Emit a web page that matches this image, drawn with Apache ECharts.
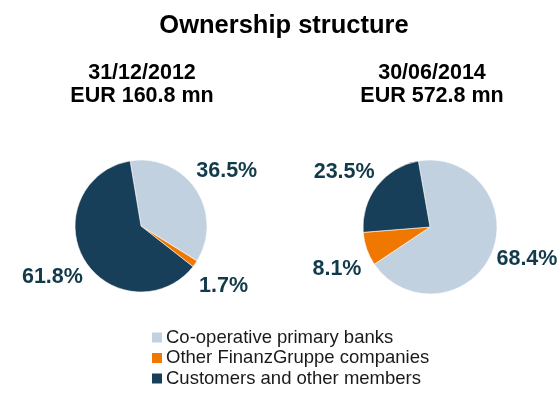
<!DOCTYPE html>
<html>
<head>
<meta charset="utf-8">
<script src="https://cdn.jsdelivr.net/npm/echarts@6/dist/echarts.min.js"></script>
<style>
  html, body { margin: 0; padding: 0; background: #ffffff; }
  #chart { width: 558px; height: 399px; }
</style>
</head>
<body>
<div id="chart"></div>
<script>
// Shareholder groups and their shares (%) at the two reporting dates
const categories = ['Co-operative primary banks', 'Other FinanzGruppe companies', 'Customers and other members'];
const shares2012 = [36.5, 1.7, 61.8];
const shares2014 = [68.4, 8.1, 23.5];
const periodDates = ['31/12/2012', '30/06/2014'];
const periodCapital = ['EUR 160.8 mn', 'EUR 572.8 mn'];

const FONT = '"Liberation Sans", Arial, sans-serif';
const colors = ['#C1D1E0', '#F07800', '#173F59'];
const labelColor = '#113A4B';

// Pie geometry; labelTurn rotates the label ring slightly (degrees, clockwise)
const pies = [
  { values: shares2012, center: [141, 226], radius: 66, startAngle: 99.5, labelTurn: 1 },
  { values: shares2014, center: [430, 227], radius: 67, startAngle: 100, labelTurn: -5 }
];
const labelDistance = 102;

// Place each percentage label on the bisector of its slice, beyond the rim
function labelPos(pie, idx) {
  const total = pie.values.reduce((a, b) => a + b, 0);
  let before = 0;
  for (let i = 0; i < idx; i++) before += pie.values[i];
  const midFrac = (before + pie.values[idx] / 2) / total;
  const a = (pie.startAngle - midFrac * 360 - pie.labelTurn) * Math.PI / 180;
  return [pie.center[0] + labelDistance * Math.cos(a), pie.center[1] - labelDistance * Math.sin(a)];
}

const chart = echarts.init(document.getElementById('chart'), null, { renderer: 'canvas' });

const series = pies.map((pie, s) => ({
  type: 'pie',
  center: pie.center,
  radius: pie.radius,
  startAngle: pie.startAngle,
  clockwise: true,
  silent: true,
  animation: false,
  itemStyle: { borderColor: '#ffffff', borderWidth: 0.6 },
  label: {
    show: true,
    position: 'inside',
    formatter: p => p.value.toFixed(1) + '%',
    fontFamily: FONT,
    fontWeight: 'bold',
    fontSize: 21.5,
    color: labelColor,
    overflow: 'none'
  },
  labelLine: { show: false },
  labelLayout: params => {
    const [x, y] = labelPos(pie, params.dataIndex);
    return { x: x, y: y, align: 'center', verticalAlign: 'middle', hideOverlap: false, moveOverlap: false };
  },
  data: categories.map((name, i) => ({ name: name, value: pie.values[i], itemStyle: { color: colors[i] } }))
}));

chart.setOption({
  backgroundColor: '#ffffff',
  title: [
    {
      text: 'Ownership structure',
      left: 279, top: 8, textAlign: 'center',
      textStyle: { fontFamily: FONT, fontWeight: 'bold', fontSize: 25.5, color: '#000000' }
    },
    {
      text: periodDates[0] + '\n' + periodCapital[0],
      left: 137, top: 57, textAlign: 'center',
      textStyle: { fontFamily: FONT, fontWeight: 'bold', fontSize: 21.5, lineHeight: 23, color: '#000000', align: 'center' }
    },
    {
      text: periodDates[1] + '\n' + periodCapital[1],
      left: 427, top: 57, textAlign: 'center',
      textStyle: { fontFamily: FONT, fontWeight: 'bold', fontSize: 21.5, lineHeight: 23, color: '#000000', align: 'center' }
    }
  ],
  legend: {
    orient: 'vertical',
    left: 150,
    top: 328,
    padding: 0,
    itemWidth: 12,
    itemHeight: 12,
    itemGap: 1.5,
    icon: 'rect',
    selectedMode: false,
    data: categories,
    textStyle: { fontFamily: FONT, fontSize: 18.5, color: '#1a1a1a', lineHeight: 18, padding: [0, 0, 0, -2] }
  },
  series: series
});
</script>
</body>
</html>
